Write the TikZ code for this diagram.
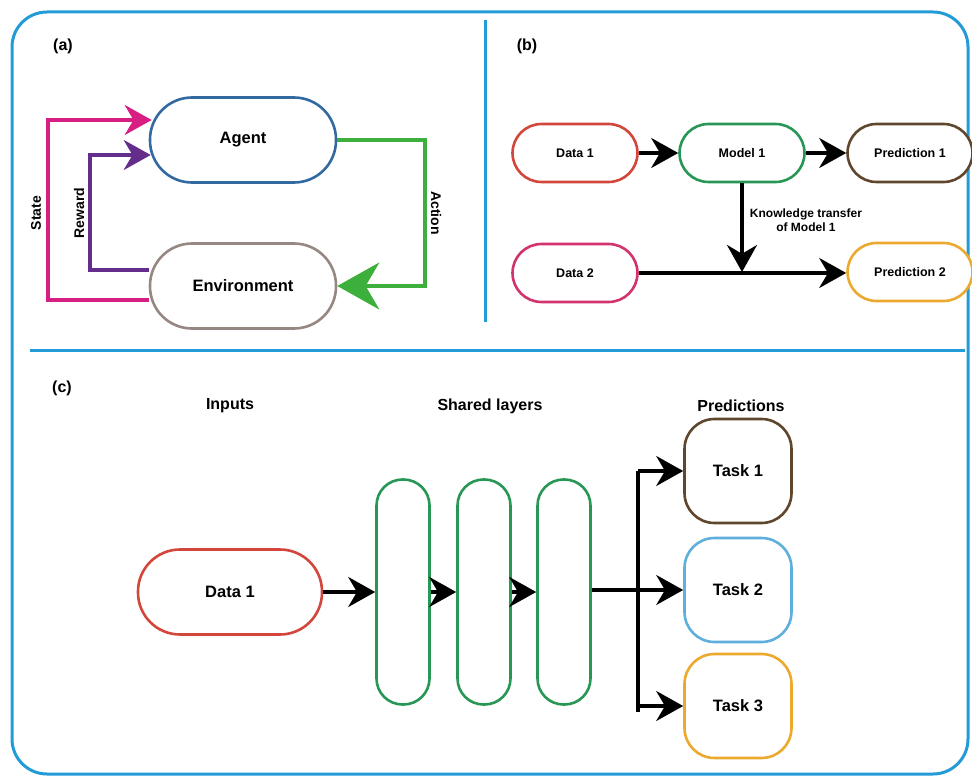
\documentclass[tikz,border=0pt]{standalone}
\usepackage{fontspec}
\setmainfont{Liberation Sans}
\usetikzlibrary{arrows.meta,shapes}
\definecolor{frameblue}{RGB}{35,155,215}
\definecolor{agentblue}{RGB}{50,105,160}
\definecolor{envgray}{RGB}{150,135,130}
\definecolor{statepink}{RGB}{215,30,130}
\definecolor{rewardpurple}{RGB}{100,45,140}
\definecolor{actiongreen}{RGB}{60,175,60}
\definecolor{datared}{RGB}{210,70,60}
\definecolor{modelgreen}{RGB}{40,150,85}
\definecolor{predbrown}{RGB}{95,70,45}
\definecolor{datapink}{RGB}{210,50,110}
\definecolor{predorange}{RGB}{235,170,45}
\definecolor{taskblue}{RGB}{95,175,220}
\tikzstyle{frame}=[draw=frameblue,line width=3pt]
\tikzstyle{pill}=[draw,line width=2.6pt,fill=white,font=\bfseries\fontsize{16.5}{19}\selectfont]
\tikzstyle{smallpill}=[pill,minimum width=125pt,minimum height=58pt,rounded corners=29pt,font=\bfseries\fontsize{12.5}{15}\selectfont]
\tikzstyle{layer}=[draw=modelgreen,line width=2.6pt,minimum width=53pt,minimum height=225pt,rounded corners=26pt]
\tikzstyle{task}=[pill,minimum width=107pt,minimum height=104pt,rounded corners=30pt]
\tikzstyle{link}=[draw,line width=3.2pt,-{Stealth[length=27pt,width=30pt]}]
\tikzstyle{title}=[font=\bfseries\fontsize{16}{19}\selectfont]
\tikzstyle{side}=[font=\bfseries\fontsize{14}{17}\selectfont]

\begin{document}
\begin{tikzpicture}[x=1pt,y=-1pt]
    \useasboundingbox (0,0) rectangle (972,778);
    % Frame and dividers
    \draw[frame,rounded corners=35pt] (12,12) rectangle (968,774);
    \coordinate (vtop) at (485,20);
    \coordinate (vbot) at (485,322);
    \coordinate (hl) at (30,350);
    \coordinate (hr) at (965,350);
    \path[frame] (vtop) -- (vbot);
    \path[frame] (hl) -- (hr);

    % (a) agent and environment
    \node[title] (tA) at (63,46) {(a)};
    \node[pill,draw=agentblue,minimum width=186pt,minimum height=85pt,rounded corners=42pt] (agent) at (243,140) {Agent};
    \node[pill,draw=envgray,minimum width=186pt,minimum height=85pt,rounded corners=42pt] (env) at (243,286) {Environment};
    \coordinate (stateL) at (48,120);
    \coordinate (rewardL) at (90,155);
    \coordinate (actionR) at (425,213);
    \path[link,color=statepink] ([yshift=-14pt]env.west) -| (stateL) -- ([xshift=3pt]stateL -| agent.west);
    \path[link,color=rewardpurple] ([yshift=16pt]env.west) -| (rewardL) -- ([xshift=2pt]rewardL -| agent.west);
    \path[link,color=actiongreen,-{Stealth[length=42pt,width=47pt]}] (agent.east) -| (actionR) |- (env.east);
    \node[side,rotate=90] (lState) at (36,213) {State};
    \node[side,rotate=90] (lReward) at (79,213) {Reward};
    \node[side,rotate=-90] (lAction) at (436,213) {Action};

    % (b) transfer learning
    \node[title] (tB) at (527,46) {(b)};
    \foreach \pos/\name/\col/\txt in {{(575,153)/data1/datared/Data 1}, {(742,153)/model1/modelgreen/Model 1}, {(910,153)/pred1/predbrown/Prediction 1}, {(575,273)/data2/datapink/Data 2}, {(910,272)/pred2/predorange/Prediction 2}}
        \node[smallpill,draw=\col] (\name) at \pos {\txt};
    \coordinate (kt) at (742,272);
    \foreach \source/\dest in {data1/model1, model1/pred1, model1/kt}
        \path[link] (\source) -- (\dest);
    \path[link] (data2.east) -- (data2.east -| pred2.west);
    \node[align=center,font=\bfseries\fontsize{12}{14.5}\selectfont] (ktlabel) at (806,220) {Knowledge transfer\\of Model 1};

    % (c) multi-task learning
    \node[title] (tC) at (62,388) {(c)};
    \node[title] (hIn) at (230,406) {Inputs};
    \node[title] (hShared) at (490,406) {Shared layers};
    \node[title] (hPred) at (741,406) {Predictions};
    \node[pill,draw=datared,minimum width=184pt,minimum height=85pt,rounded corners=42pt] (input) at (230,592) {Data 1};
    \foreach \pos/\name in {{(403,592)/L1}, {(484,592)/L2}, {(564,592)/L3}}
        \node[layer] (\name) at \pos {};
    \foreach \pos/\name/\col/\txt in {{(738,471)/task1/predbrown/Task 1}, {(738,590)/task2/taskblue/Task 2}, {(738,706)/task3/predorange/Task 3}}
        \node[task,draw=\col] (\name) at \pos {\txt};
    \path[link] (input.east) -- (input.east -| L1.west);
    \path[link] (L1.east |- input.east) -- (input.east -| L2.west);
    \path[link] (L2.east |- input.east) -- (input.east -| L3.west);
    \coordinate (split) at (638,590);
    \coordinate (splitT) at (638,471);
    \coordinate (splitB) at (638,712);
    \path[draw,line width=3.2pt] (L3.east |- split) -- (split);
    \path[draw,line width=3.2pt] (splitT) -- (splitB);
    \foreach \dest in {task1, task2, task3}
        \path[link] (split |- \dest.west) -- (\dest.west);
\end{tikzpicture}
\end{document}
